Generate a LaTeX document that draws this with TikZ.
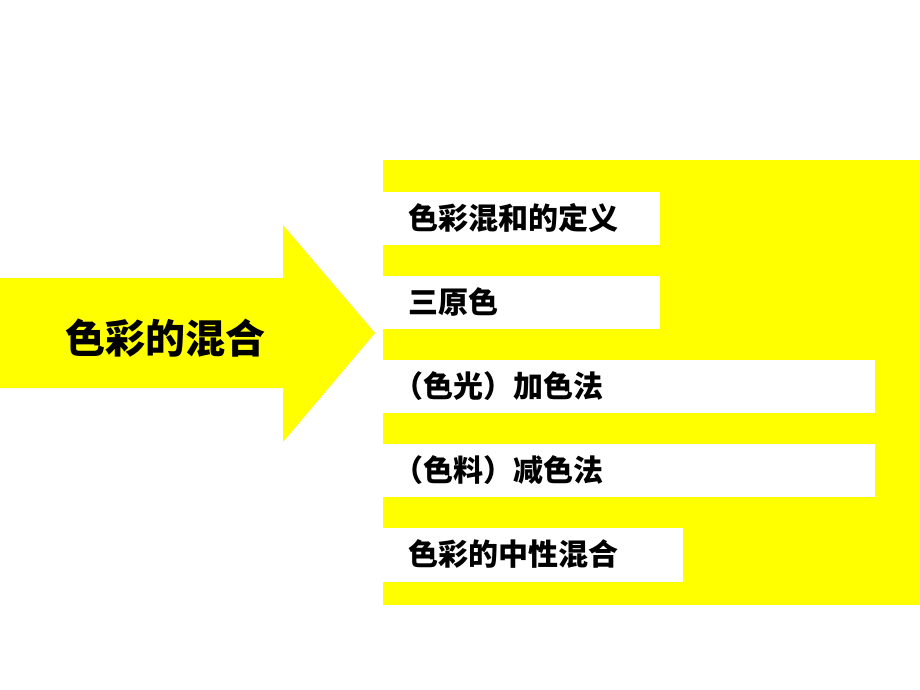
\documentclass[tikz,border=0pt]{standalone}
\usepackage{fontspec}
\newfontfamily\cjk{Noto Sans CJK SC}
\definecolor{ylw}{RGB}{255,255,0}
\begin{document}
\begin{tikzpicture}[x=1pt,y=-1pt,
  bar/.style={fill=white,draw=none},
  lbl/.style={anchor=west,font=\cjk\bfseries\fontsize{30}{34}\selectfont,inner sep=0pt}]
\useasboundingbox (0,0) rectangle (920,690);
\fill[ylw] (0,278) -- (283,278) -- (283,225) -- (375,333) -- (283,442) -- (283,388) -- (0,388) -- cycle;
\node[font=\cjk\bfseries\fontsize{40}{44}\selectfont] (main) at (165,338) {色彩的混合};
\fill[ylw] (383,160) rectangle (920,605);
\fill[bar] (383,192) rectangle (660,245);
\fill[bar] (383,276) rectangle (660,329);
\fill[bar] (383,360) rectangle (875,413);
\fill[bar] (383,444) rectangle (875,497);
\fill[bar] (383,528) rectangle (683,582);
\node[lbl] (t1) at (408,218) {色彩混和的定义};
\node[lbl] (t2) at (408,302) {三原色};
\node[lbl] (t3) at (393,386) {（色光）加色法};
\node[lbl] (t4) at (393,470) {（色料）减色法};
\node[lbl] (t5) at (408,554) {色彩的中性混合};
\end{tikzpicture}
\end{document}
